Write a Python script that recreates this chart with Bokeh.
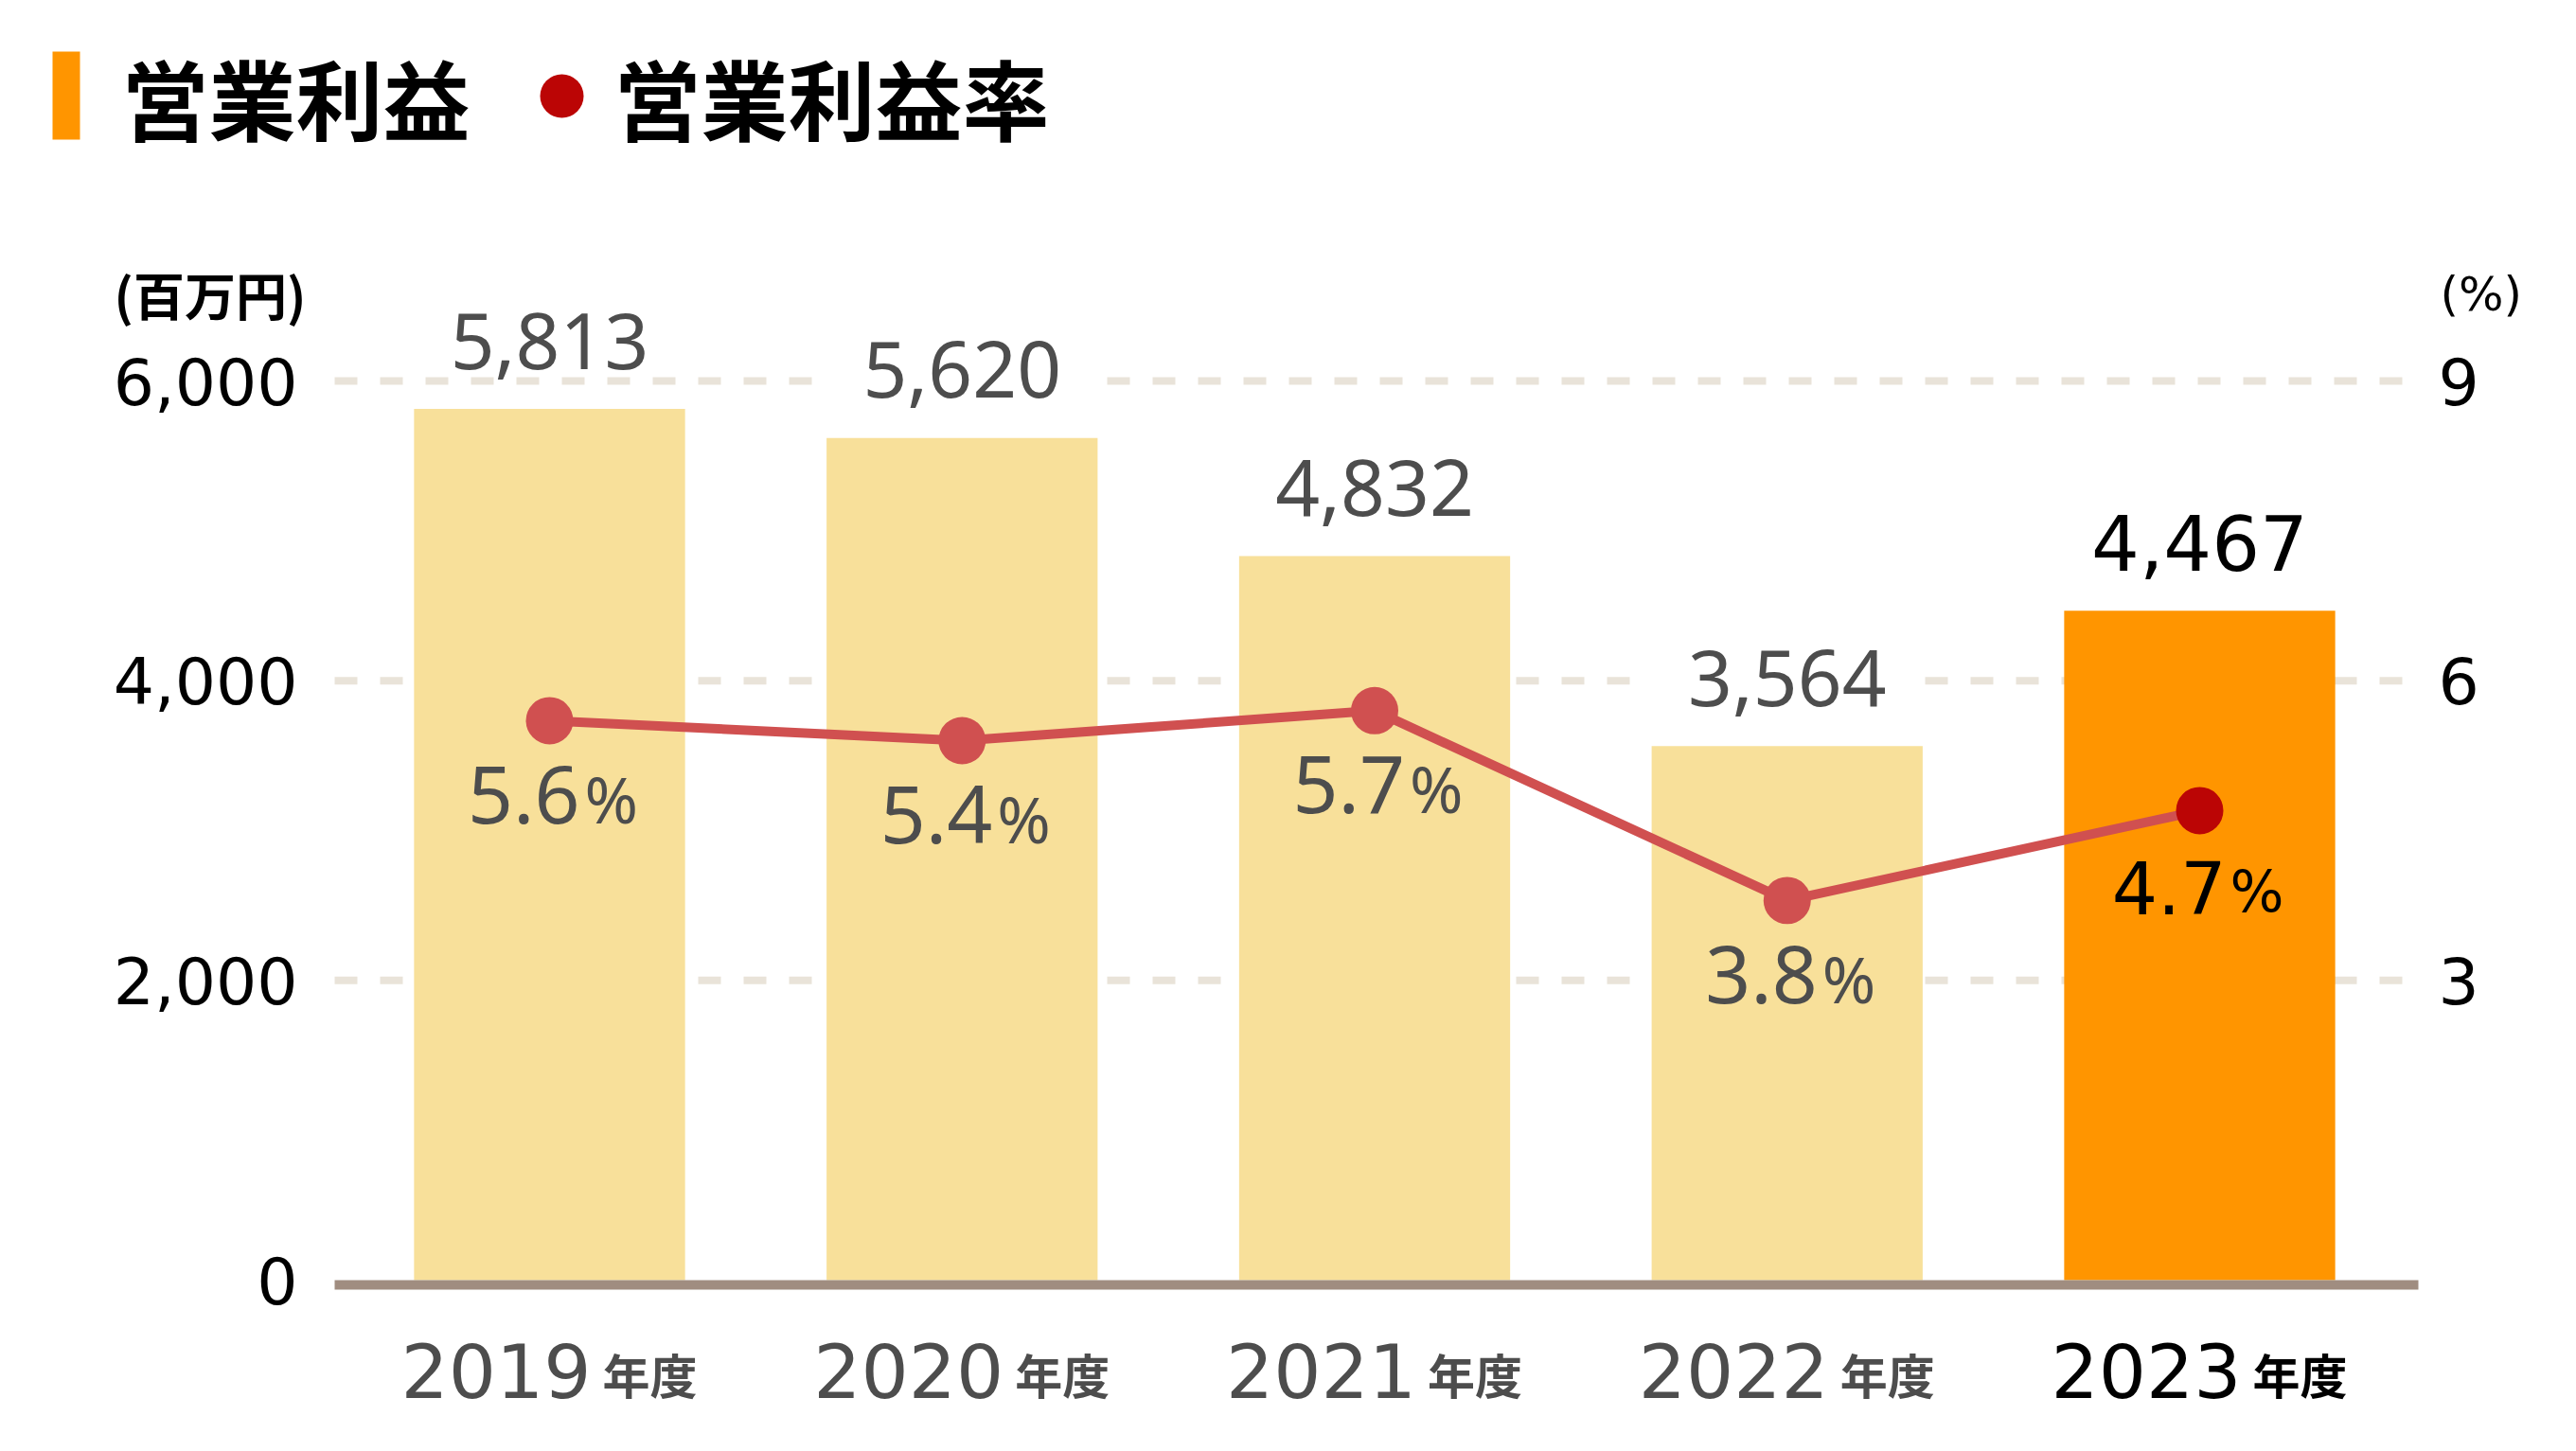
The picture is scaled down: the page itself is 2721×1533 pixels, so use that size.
from bokeh.plotting import figure
from bokeh.models import ColumnDataSource, Range1d, CDSView, IndexFilter
from bokeh.embed import file_html
from bokeh.resources import INLINE
from bokeh.core.properties import value

# ---------------- data ----------------
years = ["2019", "2020", "2021", "2022", "2023"]
operating_profit = [5813, 5620, 4832, 3564, 4467]      # 百万円
operating_margin = [5.6, 5.4, 5.7, 3.8, 4.7]           # %
left_ticks = [0, 2000, 4000, 6000]
left_tick_labels = ["0", "2,000", "4,000", "6,000"]
right_ticks = [3, 6, 9]
right_tick_labels = ["3", "6", "9"]
highlight_year = "2023"
year_suffix = "年度"
title_bar = "営業利益"
title_line = "営業利益率"
unit_left = "(百万円)"
unit_right = "(%)"

# ---------------- layout (picture pixels) ----------------
W, H = 2705, 1517
PAGE = 0
CAT_X0 = 580.0          # x of first category centre
CAT_STEP = 435.75       # px per category
Y0_PX = 1352.0          # y of value 0
PX_PER_UNIT = 950.0 / 6000.0
PCT_PER_UNIT = 9.0 / 6000.0   # right axis: 9% sits on 6,000


def X(px):
    return (px - CAT_X0) / CAT_STEP


def Y(py):
    return (Y0_PX - py) / PX_PER_UNIT


X_LEFT, X_RIGHT = X(353), X(2554)
AXIS_W = 10
YEAR_Y = Y(1447)

GRAY = "#4d4d4d"
BAR_LIGHT = "#f8e09a"
BAR_HL = "#ff9500"
LINE_C = "#d05050"
MARK_HL = "#bb0505"
GRID_C = "#e9e3d9"
AXIS_C = "#a08d80"

p = figure(width=W, height=H,
           x_range=Range1d(X(PAGE), X(PAGE + W)),
           y_range=Range1d(Y(PAGE + H), Y(PAGE)),
           x_axis_type=None, y_axis_type=None,
           toolbar_location=None, output_backend="svg", min_border=0)
p.outline_line_color = None
p.background_fill_color = "white"
p.border_fill_color = "white"
p.extra_y_ranges = {"pct": Range1d(Y(PAGE + H) * PCT_PER_UNIT, Y(PAGE) * PCT_PER_UNIT)}

idx = list(range(len(years)))
is_hl = [y == highlight_year for y in years]
norm_idx = [i for i in idx if not is_hl[i]]
hl_idx = [i for i in idx if is_hl[i]]

src = ColumnDataSource(dict(
    x=idx,
    profit=operating_profit,
    margin=operating_margin,
    label=[f"{v:,}" for v in operating_profit],
    pct=[f"{m:.1f}" for m in operating_margin],
    pct_sign=["%"] * len(years),
    year=years,
    year_y=[YEAR_Y] * len(years),
    suffix=[year_suffix] * len(years),
    bar_color=[BAR_HL if h else BAR_LIGHT for h in is_hl],
    text_color=["black" if h else GRAY for h in is_hl],
    marker_color=[MARK_HL if h else LINE_C for h in is_hl],
))
v_norm = CDSView(filter=IndexFilter(norm_idx))
v_hl = CDSView(filter=IndexFilter(hl_idx))

# ---------------- grid lines ----------------
grid_vals = [t for t in left_ticks if t != 0]
p.segment(x0=[X_LEFT] * len(grid_vals), x1=[X_RIGHT] * len(grid_vals),
          y0=grid_vals, y1=grid_vals, line_color=GRID_C, line_width=8,
          line_dash="24 24")

# ---------------- value labels (white box hides grid) ----------------
pad = dict(left=38, right=38, top=4, bottom=4)
p.text(x="x", y="profit", text="label", source=src, view=v_norm,
       text_align="center", text_baseline="middle", y_offset=-72,
       text_font=value("Noto Sans"), text_font_size="82px", text_color=GRAY,
       background_fill_color="white", padding=pad)
p.text(x="x", y="profit", text="label", source=src, view=v_hl,
       text_align="center", text_baseline="middle", y_offset=-72,
       text_font=value("DejaVu Sans"), text_font_size="80px", text_color="black")

# ---------------- bars ----------------
p.vbar(x="x", top="profit", bottom=0, width=0.657, source=src,
       fill_color="bar_color", line_color=None)

# x axis rule
p.quad(left=[X_LEFT], right=[X_RIGHT], top=[0], bottom=[-AXIS_W / PX_PER_UNIT],
       fill_color=AXIS_C, line_color=None)

# ---------------- line + markers ----------------
p.line(x="x", y="margin", source=src, y_range_name="pct",
       line_color=LINE_C, line_width=10)
p.scatter(x="x", y="margin", source=src, y_range_name="pct",
          size=50, fill_color="marker_color", line_color=None)

# percent labels
p.text(x="x", y="margin", text="pct", source=src, view=v_norm, y_range_name="pct",
       text_align="right", text_baseline="middle", x_offset=32, y_offset=78,
       text_font=value("Noto Sans"), text_font_size="84px", text_color=GRAY)
p.text(x="x", y="margin", text="pct_sign", source=src, view=v_norm, y_range_name="pct",
       text_align="left", text_baseline="middle", x_offset=37, y_offset=82,
       text_font=value("Noto Sans"), text_font_size="68px", text_color=GRAY)
p.text(x="x", y="margin", text="pct", source=src, view=v_hl, y_range_name="pct",
       text_align="right", text_baseline="middle", x_offset=28, y_offset=82,
       text_font=value("DejaVu Sans"), text_font_size="76px", text_color="black")
p.text(x="x", y="margin", text="pct_sign", source=src, view=v_hl, y_range_name="pct",
       text_align="left", text_baseline="middle", x_offset=32, y_offset=86,
       text_font=value("DejaVu Sans"), text_font_size="60px", text_color="black")

# ---------------- category labels ----------------
p.text(x="x", y="year_y", text="year", source=src,
       text_align="right", text_baseline="middle", x_offset=44,
       text_font=value("DejaVu Sans"), text_font_size="79px", text_color="text_color")
p.text(x="x", y="year_y", text="suffix", source=src,
       text_align="left", text_baseline="middle", x_offset=56, y_offset=3,
       text_font=value("Noto Sans CJK JP"), text_font_style="bold",
       text_font_size="50px", text_color="text_color")

# ---------------- axis tick labels ----------------
p.text(x=[X(314)] * len(left_ticks), y=left_ticks, text=left_tick_labels,
       text_align="right", text_baseline="middle",
       text_font=value("DejaVu Sans"), text_font_size="68px", text_color="black")
p.text(x=[X(2575)] * len(right_ticks), y=right_ticks, text=right_tick_labels,
       y_range_name="pct", text_align="left", text_baseline="middle",
       text_font=value("DejaVu Sans"), text_font_size="68px", text_color="black")

# units
p.text(x=[X(120)], y=[Y(310)], text=[unit_left], text_align="left",
       text_baseline="middle", text_font=value("Noto Sans CJK JP"),
       text_font_style="bold", text_font_size="54px", text_color="black")
p.text(x=[X(2577)], y=[Y(310)], text=[unit_right], text_align="left",
       text_baseline="middle", text_font=value("DejaVu Sans"),
       text_font_size="50px", text_color="black")

# ---------------- title / legend ----------------
p.quad(left=[X(55)], right=[X(84)], top=[Y(54)], bottom=[Y(147)],
       fill_color=BAR_HL, line_color=None)
p.text(x=[X(128)], y=[Y(101)], text=[title_bar], text_align="left",
       text_baseline="middle", text_font=value("Noto Sans CJK JP"),
       text_font_style="bold", text_font_size="92px", text_color="black")
p.scatter(x=[X(593)], y=[Y(101)], size=46, fill_color=MARK_HL, line_color=None)
p.text(x=[X(648)], y=[Y(101)], text=[title_line], text_align="left",
       text_baseline="middle", text_font=value("Noto Sans CJK JP"),
       text_font_style="bold", text_font_size="92px", text_color="black")

open("out.html", "w").write(file_html(p, INLINE))
